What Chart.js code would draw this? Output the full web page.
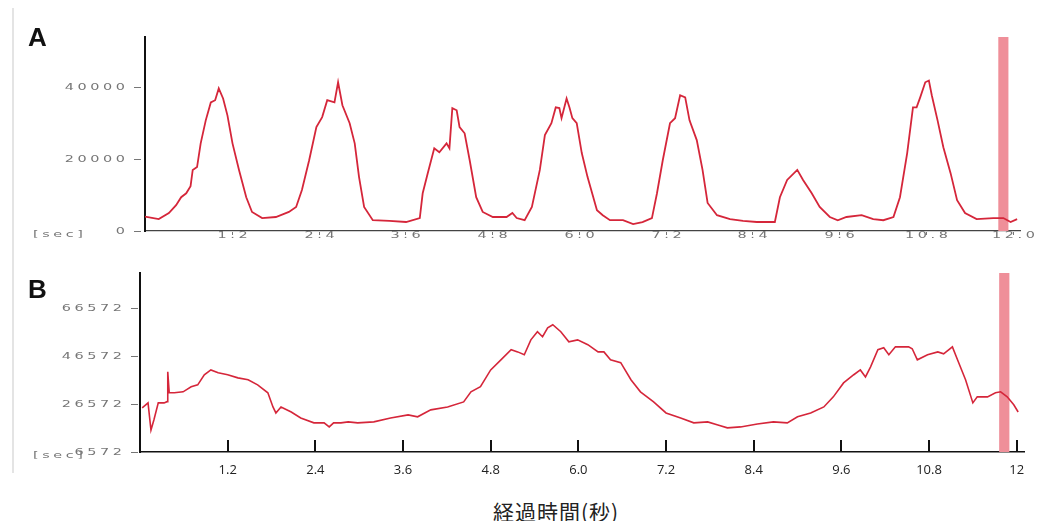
<!DOCTYPE html>
<html>
<head>
<meta charset="utf-8">
<script src="https://cdn.jsdelivr.net/npm/chart.js@4.4.0/dist/chart.umd.min.js"></script>
<style>
  body { margin: 0; background: #fff; width: 1039px; height: 521px; overflow: hidden; position: relative; }
  canvas { position: absolute; left: 0; }
  #ca { top: 0; }
  #cb { top: 250px; }
  .tag { position: absolute; left: 28px; font: bold 26px "Liberation Sans", Arial, sans-serif; line-height: 26px; color: #111; }
  #edge { position: absolute; left: 12px; top: 8px; width: 2px; height: 465px; background: #e4e4e4; }
  #xtitle { position: absolute; left: 493px; top: 500px; font: 21px "Noto Sans CJK JP", sans-serif; line-height: 22px; letter-spacing: 1px; color: #222; white-space: nowrap; }
</style>
</head>
<body>
<div id="edge"></div>
<canvas id="ca" width="1039" height="250"></canvas>
<canvas id="cb" width="1039" height="230"></canvas>
<div class="tag" style="top:24px">A</div>
<div class="tag" style="top:276px">B</div>
<div id="xtitle">経過時間(秒)</div>
<script>
// panel A
const aTime = [0, 0.19, 0.33, 0.43, 0.5, 0.57, 0.63, 0.66, 0.72, 0.77, 0.84, 0.91, 0.97, 1.02, 1.08, 1.14, 1.21, 1.3, 1.4, 1.48,
  1.62, 1.81, 1.99, 2.09, 2.17, 2.27, 2.37, 2.45, 2.52, 2.62, 2.67, 2.73, 2.83, 2.9, 2.96, 3.03, 3.15, 3.38, 3.61, 3.8,
  3.84, 3.91, 4.0, 4.07, 4.17, 4.21, 4.25, 4.31, 4.35, 4.42, 4.49, 4.58, 4.67, 4.81, 5.0, 5.08, 5.14, 5.25, 5.35, 5.46,
  5.53, 5.62, 5.68, 5.73, 5.76, 5.83, 5.87, 5.91, 5.97, 6.04, 6.12, 6.25, 6.33, 6.43, 6.61, 6.75, 6.88, 7.01, 7.08, 7.16,
  7.26, 7.33, 7.4, 7.47, 7.53, 7.63, 7.71, 7.78, 7.91, 8.09, 8.27, 8.46, 8.71, 8.78, 8.88, 9.02, 9.1, 9.22, 9.33, 9.47,
  9.58, 9.7, 9.91, 10.07, 10.21, 10.35, 10.44, 10.54, 10.62, 10.67, 10.72, 10.79, 10.84, 10.88, 10.96, 11.04, 11.14, 11.23, 11.34, 11.5,
  11.73, 11.87, 11.97, 12.06];
const aValue = [4000, 3300, 5000, 7200, 9400, 10500, 12500, 17000, 17800, 24400, 30800, 35800, 36400, 39700, 36900, 32200, 24400, 17000, 9400, 5300,
  3600, 3900, 5300, 6700, 11400, 19700, 28900, 31700, 36400, 35800, 41400, 35000, 30000, 24400, 15000, 6700, 3000, 2800, 2500, 3600,
  10500, 16100, 23000, 21900, 24400, 23000, 34200, 33600, 28900, 27200, 19700, 9400, 5300, 3900, 3900, 5000, 3600, 3000, 6700, 17000,
  26700, 30000, 34400, 34200, 31400, 36900, 34400, 31400, 30000, 21700, 15000, 5800, 4400, 3000, 3000, 1900, 2500, 3600, 10500, 19700,
  30000, 31400, 37800, 37200, 30800, 25300, 17000, 7800, 4400, 3300, 2800, 2500, 2500, 9400, 14200, 17000, 14200, 10500, 6700, 3900,
  3000, 3900, 4400, 3300, 3000, 3900, 9400, 21700, 34400, 34400, 37200, 41400, 41900, 37800, 30800, 23300, 16100, 8600, 5000, 3300,
  3600, 3600, 2500, 3300];
const aYTicks = [0, 20000, 40000];
const aXTicks = [1.2, 2.4, 3.6, 4.8, 6.0, 7.2, 8.4, 9.6, 10.8, 12.0];
const aXLabels = ['1.2', '2.4', '3.6', '4.8', '6.0', '7.2', '8.4', '9.6', '10.8', '12.0'];
const aMarker = [11.8, 11.94];

// panel B
const bTime = [0.03, 0.11, 0.15, 0.19, 0.25, 0.33, 0.37, 0.38, 0.4, 0.47, 0.59, 0.7, 0.79, 0.88, 0.97, 1.07, 1.2, 1.34, 1.48, 1.61,
  1.75, 1.82, 1.86, 1.93, 2.07, 2.2, 2.38, 2.52, 2.59, 2.65, 2.75, 2.85, 2.98, 3.2, 3.43, 3.67, 3.8, 3.98, 4.21, 4.43,
  4.53, 4.66, 4.8, 4.94, 5.08, 5.17, 5.26, 5.35, 5.44, 5.51, 5.58, 5.65, 5.76, 5.87, 5.99, 6.13, 6.27, 6.35, 6.44, 6.58,
  6.72, 6.85, 7.03, 7.2, 7.4, 7.58, 7.77, 7.91, 8.04, 8.22, 8.45, 8.67, 8.86, 9.0, 9.18, 9.36, 9.49, 9.63, 9.77, 9.86,
  9.93, 10.0, 10.1, 10.18, 10.25, 10.34, 10.44, 10.52, 10.57, 10.64, 10.78, 10.92, 11.0, 11.12, 11.19, 11.3, 11.4, 11.46, 11.6, 11.71,
  11.78, 11.87, 11.96, 12.02];
const bValue = [24900, 27000, 15700, 19900, 27000, 27000, 27500, 39900, 31200, 31200, 31600, 33700, 34500, 38700, 40700, 39500, 38700, 37400, 36600, 34500,
  31200, 25300, 22800, 25300, 23200, 20700, 18700, 18700, 17000, 18700, 18700, 19100, 18700, 19100, 20700, 22000, 21200, 24100, 25300, 27400,
  31600, 33700, 40700, 44900, 49100, 48200, 47000, 53200, 56600, 54500, 58200, 59500, 56600, 52400, 53200, 51200, 48200, 48200, 44900, 43700,
  36600, 31600, 27400, 22800, 20700, 18700, 19100, 17800, 16600, 17000, 18200, 19100, 18700, 21200, 22800, 25300, 29500, 35300, 38700, 40700,
  37800, 42000, 49100, 49900, 47000, 50300, 50300, 50300, 49500, 44900, 47000, 48200, 47400, 50300, 44900, 36600, 27000, 29500, 29500, 31200,
  31600, 29500, 26200, 23200];
const bYTicks = [6572, 26572, 46572, 66572];
const bXTicks = [1.2, 2.4, 3.6, 4.8, 6.0, 7.2, 8.4, 9.6, 10.8, 12];
const bXLabels = ['1.2', '2.4', '3.6', '4.8', '6.0', '7.2', '8.4', '9.6', '10.8', '12'];
const bMarker = [11.76, 11.9];

const LINE_RED = '#d5263a';
const MARK_RED = '#ef8f99';
const GRAY = '#767676';

// the old software's labels: short, wide, spaced-out glyphs
function wideText(ctx, text, x, y, align) {
  ctx.save();
  ctx.translate(x, y);
  ctx.scale(1.8, 1);
  ctx.textAlign = align;
  ctx.fillText(text, 0, 0);
  ctx.restore();
}

// marker bar, faded grey labels, inner ticks on B
function panelPlugin(cfg) {
  return {
    id: 'panel',
    beforeDatasetsDraw(chart) {
      const { ctx, chartArea, scales: { x } } = chart;
      const x0 = x.getPixelForValue(cfg.marker[0]);
      const x1 = x.getPixelForValue(cfg.marker[1]);
      ctx.save();
      ctx.fillStyle = MARK_RED;
      ctx.fillRect(x0, chartArea.top, x1 - x0, chartArea.bottom - chartArea.top);
      ctx.restore();
    },
    afterDraw(chart) {
      const { ctx, chartArea, scales: { x, y } } = chart;
      ctx.save();
      ctx.font = '8px "DejaVu Sans"';
      ctx.letterSpacing = '2px';
      ctx.fillStyle = GRAY;
      ctx.strokeStyle = GRAY;
      ctx.lineWidth = 1;
      ctx.textBaseline = 'middle';

      cfg.yTicks.forEach(v => {
        const py = Math.round(y.getPixelForValue(v)) + 0.5;
        wideText(ctx, String(v), cfg.yLabelRight + 3.6, py, 'right');
        ctx.beginPath();
        ctx.moveTo(cfg.yLabelRight + 9, py);
        ctx.lineTo(cfg.yLabelRight + 16, py);
        ctx.stroke();
      });

      if (cfg.grayX) {
        cfg.xTicks.forEach((v, i) => {
          const px = Math.round(x.getPixelForValue(v)) + 0.5;
          wideText(ctx, cfg.xLabels[i], px + 1.8, chartArea.bottom + 4.5, 'center');
          ctx.beginPath();
          ctx.moveTo(px, chartArea.bottom + 1);
          ctx.lineTo(px, chartArea.bottom + 4);
          ctx.stroke();
        });
      } else {
        ctx.strokeStyle = '#111';
        ctx.lineWidth = 2;
        cfg.xTicks.forEach(v => {
          const px = Math.round(x.getPixelForValue(v));
          ctx.beginPath();
          ctx.moveTo(px, chartArea.bottom - 12);
          ctx.lineTo(px, chartArea.bottom);
          ctx.stroke();
        });
      }

      wideText(ctx, '[sec]', 33, chartArea.bottom + cfg.secOffset, 'left');
      ctx.restore();
    }
  };
}

function lineData(times, values) {
  return times.map((t, i) => ({ x: t, y: values[i] }));
}

new Chart(document.getElementById('ca'), {
  type: 'line',
  data: {
    datasets: [{
      data: lineData(aTime, aValue),
      borderColor: LINE_RED,
      borderWidth: 1.8,
      pointRadius: 0,
      tension: 0
    }]
  },
  options: {
    responsive: false,
    animation: false,
    events: [],
    layout: { padding: { top: 37, right: 19, left: 0, bottom: 0 } },
    plugins: { legend: { display: false }, tooltip: { enabled: false } },
    scales: {
      x: {
        type: 'linear', min: 0, max: 12.1,
        grid: { display: false, drawTicks: false },
        ticks: { display: false },
        border: { color: '#444', width: 1.2 },
        afterFit: s => { s.height = 19; }
      },
      y: {
        min: 0, max: 54000,
        grid: { display: false, drawTicks: false },
        ticks: { display: false },
        border: { color: '#111', width: 2 },
        afterFit: s => { s.width = 145; }
      }
    }
  },
  plugins: [panelPlugin({ marker: aMarker, yTicks: aYTicks, yLabelRight: 125, grayX: true, xTicks: aXTicks, xLabels: aXLabels, secOffset: 4 })]
});

new Chart(document.getElementById('cb'), {
  type: 'line',
  data: {
    datasets: [{
      data: lineData(bTime, bValue),
      borderColor: LINE_RED,
      borderWidth: 1.6,
      pointRadius: 0,
      tension: 0
    }]
  },
  options: {
    responsive: false,
    animation: false,
    events: [],
    layout: { padding: { top: 23, right: 15, left: 0, bottom: 0 } },
    plugins: { legend: { display: false }, tooltip: { enabled: false } },
    scales: {
      x: {
        type: 'linear', min: 0, max: 12.1,
        afterBuildTicks: s => { s.ticks = bXTicks.map(v => ({ value: v })); },
        ticks: {
          callback: (v, i) => bXLabels[i],
          color: '#222',
          font: { family: '"Open Sans"', size: 13 },
          padding: 10,
          maxRotation: 0,
          autoSkip: false
        },
        grid: { display: false, drawTicks: false },
        border: { color: '#111', width: 1.5 },
        afterFit: s => { s.height = 28; }
      },
      y: {
        min: 6572, max: 81000,
        grid: { display: false, drawTicks: false },
        ticks: { display: false },
        border: { color: '#111', width: 2 },
        afterFit: s => { s.width = 140; }
      }
    }
  },
  plugins: [panelPlugin({ marker: bMarker, yTicks: bYTicks, yLabelRight: 122, grayX: false, xTicks: bXTicks, xLabels: bXLabels, secOffset: 4 })]
});
</script>
</body>
</html>
